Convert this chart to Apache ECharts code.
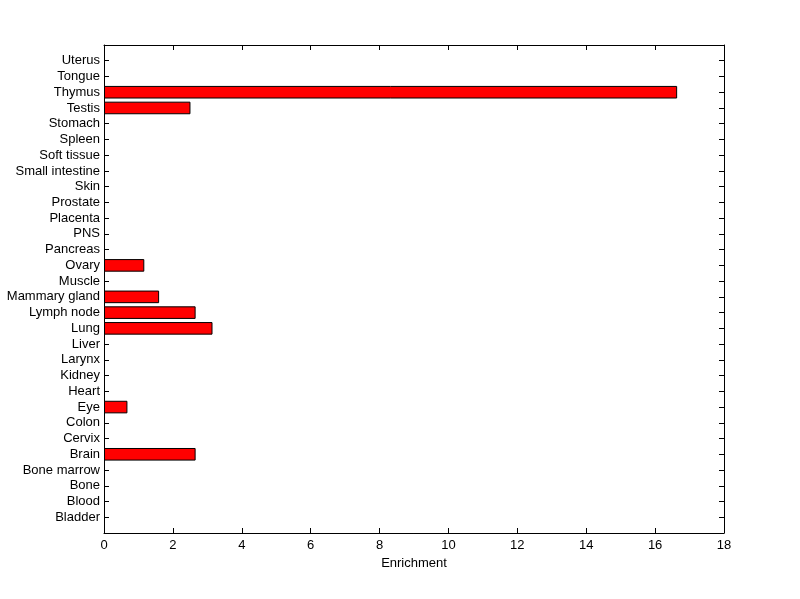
<!DOCTYPE html>
<html><head><meta charset="utf-8">
<script src="https://cdn.jsdelivr.net/npm/echarts@6/dist/echarts.min.js"></script>
<style>html,body{margin:0;padding:0;background:#fff}#c{width:800px;height:599px}</style>
</head><body><div id="c"></div>
<script>
var categories = ['Bladder','Blood','Bone','Bone marrow','Brain','Cervix','Colon','Eye','Heart','Kidney','Larynx','Liver','Lung','Lymph node','Mammary gland','Muscle','Ovary','Pancreas','PNS','Placenta','Prostate','Skin','Small intestine','Soft tissue','Spleen','Stomach','Testis','Thymus','Tongue','Uterus'];
var enrichment = [0,0,0,0,2.66,0,0,0.68,0,0,0,0,3.15,2.66,1.60,0,1.17,0,0,0,0,0,0,0,0,0,2.51,16.64,0,0];
var xTicks = [0,2,4,6,8,10,12,14,16,18];

var yCats = [''].concat(categories).concat(['']);
var yData = [null].concat(enrichment.map(function(v){return v === 0 ? null : v;})).concat([null]);
var font = 'Liberation Sans, Arial, sans-serif';
var tickInner = function(idx){ return idx > 0 && idx < yCats.length - 1; };
var chart = echarts.init(document.getElementById('c'));
chart.setOption({
  animation: false,
  backgroundColor: '#fff',
  grid: {left: 104, right: 76, top: 45, bottom: 66},
  xAxis: [{
    type: 'value', min: xTicks[0], max: xTicks[xTicks.length-1], interval: 2,
    name: 'Enrichment', nameLocation: 'middle', nameGap: 24,
    nameTextStyle: {color: '#000', fontFamily: font, fontSize: 13},
    axisLine: {show: true, onZero: false, lineStyle: {color: '#000', width: 1}},
    axisTick: {show: true, inside: true, length: 5, lineStyle: {color: '#000'}},
    axisLabel: {color: '#000', fontFamily: font, fontSize: 13, margin: 6},
    splitLine: {show: false}
  }, {
    type: 'value', position: 'top', min: xTicks[0], max: xTicks[xTicks.length-1], interval: 2,
    axisLine: {show: true, onZero: false, lineStyle: {color: '#000', width: 1}},
    axisTick: {show: true, inside: true, length: 5, lineStyle: {color: '#000'}},
    axisLabel: {show: false}, splitLine: {show: false}
  }],
  yAxis: [{
    type: 'category', data: yCats, boundaryGap: false, position: 'left',
    axisLine: {show: true, onZero: false, lineStyle: {color: '#000', width: 1}},
    axisTick: {show: true, inside: true, length: 5, interval: tickInner, lineStyle: {color: '#000'}},
    axisLabel: {color: '#000', fontFamily: font, fontSize: 13, margin: 4, interval: 0},
    splitLine: {show: false}
  }, {
    type: 'category', data: yCats, boundaryGap: false, position: 'right',
    axisLine: {show: true, onZero: false, lineStyle: {color: '#000', width: 1}},
    axisTick: {show: true, inside: true, length: 5, interval: tickInner, lineStyle: {color: '#000'}},
    axisLabel: {show: false}, splitLine: {show: false}
  }],
  series: [{
    type: 'bar', xAxisIndex: 0, yAxisIndex: 0, data: yData, barWidth: '80%',
    itemStyle: {color: '#ff0000', borderColor: '#000', borderWidth: 1}
  }]
});
</script></body></html>
